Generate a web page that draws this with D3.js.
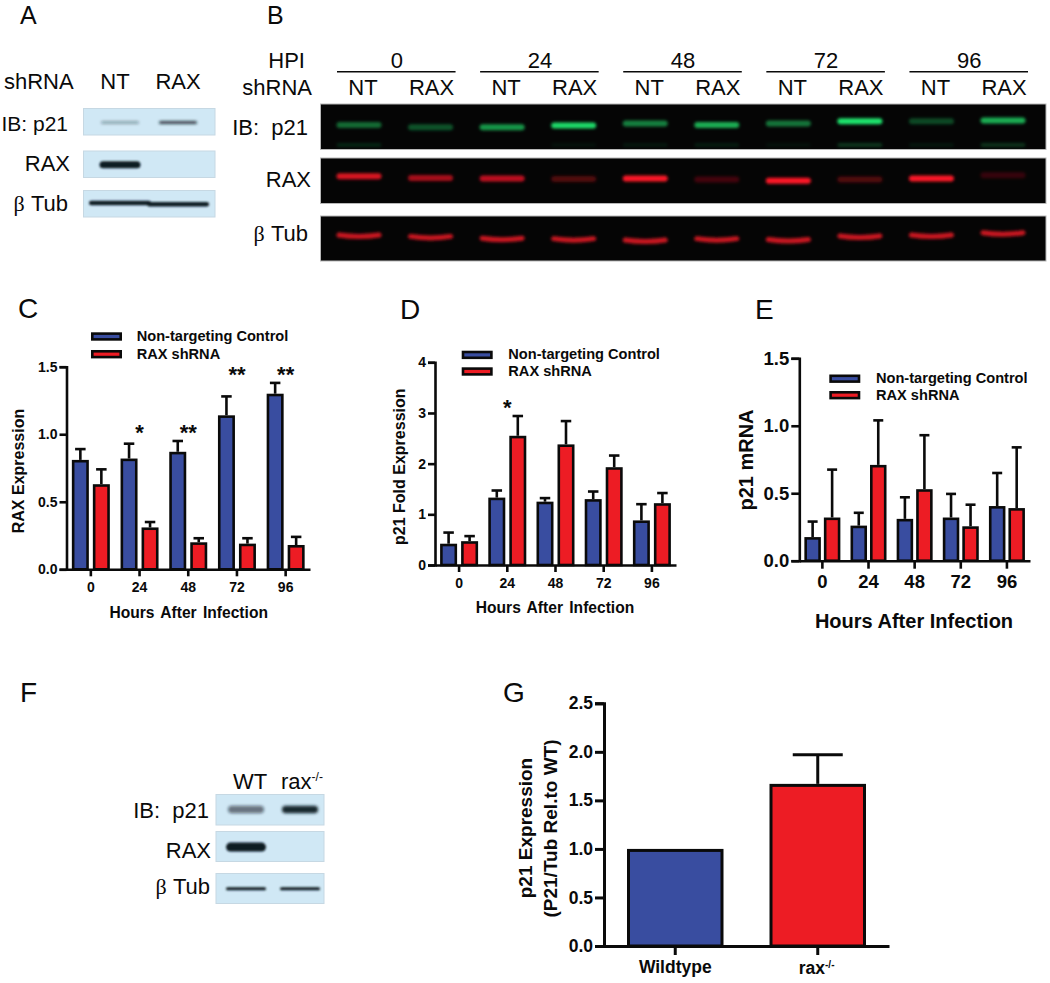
<!DOCTYPE html>
<html>
<head>
<meta charset="utf-8">
<script src="https://cdnjs.cloudflare.com/ajax/libs/d3/7.8.5/d3.min.js"></script>
<style>
html,body{margin:0;padding:0;background:#fff;}
svg{display:block;}
text{font-family:"Liberation Sans",Arial,sans-serif;fill:#0a0a0a;white-space:pre;}
</style>
</head>
<body>
<svg id="fig" width="1050" height="983"></svg>
<script>
// ---------- Data ----------
const hours = ["0","24","48","72","96"];
const seriesNames = ["Non-targeting Control","RAX shRNA"];

const cBlue = [0.81,0.82,0.87,1.14,1.30];
const cBlueUpper = [0.89,0.93,0.95,1.28,1.38];
const cRed = [0.63,0.31,0.20,0.19,0.18];
const cRedUpper = [0.74,0.35,0.23,0.23,0.24];
const cStars = ["","*","**","**","**"];
const cStarLevel = [0,1.054,1.054,1.484,1.484];
const cTicks = [0,0.5,1.0,1.5];

const dBlue = [0.42,1.33,1.25,1.30,0.88];
const dBlueUpper = [0.64,1.47,1.32,1.45,1.20];
const dRed = [0.47,2.55,2.38,1.93,1.22];
const dRedUpper = [0.57,2.94,2.84,2.16,1.42];
const dStars = ["","*","","",""];
const dStarLevel = [0,3.22,0,0,0];
const dTicks = [0,1,2,3,4];

const eBlue = [0.175,0.26,0.31,0.32,0.405];
const eBlueUpper = [0.29,0.355,0.47,0.495,0.65];
const eRed = [0.32,0.71,0.53,0.255,0.39];
const eRedUpper = [0.675,1.04,0.93,0.415,0.84];
const eTicks = [0,0.5,1.0,1.5];

const gCats = ["Wildtype","rax"];
const gVals = [1.0,1.67];
const gUpper = [1.0,1.97];
const gTicks = [0,0.5,1.0,1.5,2.0,2.5];

// Western blot band intensities (0-1) and migration (% of blot height)
const twoLanes = ["NT","RAX"];
const aP21 = [0.32,0.8];
const aRax = [1,0];
const aTub = [1,1];
const fLanes = ["WT","rax"];
const fP21 = [0.55,0.95];
const fRax = [1,0];
const fTub = [1,1];

const bLanes = ["0 NT","0 RAX","24 NT","24 RAX","48 NT","48 RAX","72 NT","72 RAX","96 NT","96 RAX"];
const bP21 = [0.45,0.35,0.65,0.95,0.55,0.75,0.5,1,0.3,0.75];
const bP21Lower = [0.14,0,0,0.05,0.08,0.1,0.05,0.22,0.08,0.2];
const bRax = [0.85,0.65,0.75,0.3,1,0.25,1,0.3,1,0.2];
const bTub = [0.85,0.85,0.85,0.85,0.85,0.85,0.85,0.85,0.85,0.85];
const bP21Mig = [46,51,51,47,43,46,43,38,38,36];
const bRaxMig = [40,44,45,46,45,47,50,47,45,38];
const bTubMig = [44,47,51,52,55,52,54,46,44,39];

const BLUE = "#394da0", RED = "#ed1c24", INK = "#0a0a0a";
const svg = d3.select("#fig");

const defs = svg.append("defs");
const blur = (id, s) => defs.append("filter").attr("id", id)
  .attr("filterUnits","userSpaceOnUse").attr("x",0).attr("y",0).attr("width",1050).attr("height",983)
  .append("feGaussianBlur").attr("stdDeviation", s);
blur("bandBlur", 1.4);
blur("softBlur", 0.8);

// ---------- Text helper ----------
function txt(x, y, s, o = {}) {
  const t = svg.append("text").attr("x", x).attr("y", y)
    .attr("font-size", o.size || 22)
    .attr("font-weight", o.bold ? "bold" : "normal")
    .attr("text-anchor", o.anchor || "start")
    .text(s);
  if (o.rotate) t.attr("transform", `rotate(-90 ${x} ${y})`);
  if (o.ws) t.attr("word-spacing", o.ws);
  return t;
}
function tub(x, y, size = 22) {
  const t = svg.append("text").attr("x", x).attr("y", y).attr("font-size", size).attr("text-anchor","end");
  t.append("tspan").attr("font-family","'Liberation Serif',serif").text("\u03b2");
  t.append("tspan").text(" Tub");
}

// ---------- Panel letters ----------
[["A",20,23.5,25],["B",267,23.5,25],["C",18,318,28],["D",400,319,28],["E",755,319,28],["F",20,702,28],["G",503,702,28]]
  .forEach(([s,x,y,size]) => txt(x, y, s, {size}));

// ---------- Blot helper ----------
function blot(o) {
  const mig = d3.scaleLinear().domain([0,100]).range([o.y0, o.y1]);
  const g = svg.append("g");
  if (!o.noBg) {
    g.append("rect").attr("x", o.x0).attr("y", o.y0)
      .attr("width", o.x1 - o.x0).attr("height", o.y1 - o.y0)
      .attr("fill", o.bg).attr("stroke", o.edge).attr("stroke-width", 1);
  }
  const bands = g.append("g").attr("filter", `url(#${o.blur || "bandBlur"})`);
  const lineGen = (d, i) => {
    const c = o.lanes(o.domain[i]), m = mig(o.migration[i]);
    const w = o.width / 2 - o.h / 2, dip = o.dip || 0;
    const p = d3.path();
    p.moveTo(c - w, m - dip / 2);
    p.quadraticCurveTo(c, m + dip * 1.5, c + w, m - dip / 2);
    return p.toString();
  };
  bands.selectAll("path").data(o.values).join("path")
    .attr("d", lineGen)
    .attr("fill", "none")
    .attr("stroke", o.color)
    .attr("stroke-width", o.h)
    .attr("stroke-linecap", "round")
    .attr("opacity", d => d);
}

// ---------- Panel A ----------
const LIGHT = "#d0e8f5", LIGHTEDGE = "#c6d8e3", DARKBAND = "#0d1a22";
const aX = d3.scalePoint().domain(twoLanes).range([120,178]);
const uniform = (n, v) => d3.range(n).map(() => v);
const aCommon = {x0:83.5, x1:215, lanes:aX, domain:twoLanes, bg:LIGHT, edge:LIGHTEDGE, color:DARKBAND};
blot({...aCommon, y0:108.5, y1:135, values:aP21, migration:uniform(2,53), width:38, h:3});
blot({...aCommon, y0:151, y1:177.5, values:aRax, migration:uniform(2,52), width:41, h:7, blur:"softBlur"});
blot({...aCommon, y0:190.5, y1:217, values:aTub, migration:[47,52], width:62, h:4.5, blur:"softBlur"});
txt(4, 89, "shRNA");
txt(115, 89, "NT", {anchor:"middle"});
txt(178, 89, "RAX", {anchor:"middle"});
txt(68, 131, "IB: p21", {anchor:"end", size:21});
txt(70, 171, "RAX", {anchor:"end"});
tub(68, 211);

// ---------- Panel B ----------
const bX = d3.scalePoint().domain(bLanes).range([359,1003]);
const bCommon = {x0:320.5, x1:1046, lanes:bX, domain:bLanes, bg:"#050505", edge:"#b8b8b8", width:45};
blot({...bCommon, y0:104, y1:149.5, values:bP21, migration:bP21Mig, color:"#1fe56d", h:6});
blot({...bCommon, noBg:true, y0:104, y1:149.5, values:bP21Lower, migration:uniform(10,90), color:"#1fe56d", h:4});
blot({...bCommon, y0:158, y1:203.5, values:bRax, migration:bRaxMig, color:"#ff1426", h:6});
blot({...bCommon, y0:216, y1:261, values:bTub, migration:bTubMig, color:"#f01525", h:5, dip:1.5});
txt(305, 68, "HPI", {anchor:"end"});
txt(312, 95, "shRNA", {anchor:"end"});
txt(308, 135, "IB:  p21", {anchor:"end"});
txt(311, 187, "RAX", {anchor:"end"});
tub(308, 241);

svg.append("g").selectAll("line").data(hours).join("line")
  .attr("x1", (d,i) => bX(bLanes[i*2]) - 22)
  .attr("x2", (d,i) => bX(bLanes[i*2+1]) + 25)
  .attr("y1", 71.7).attr("y2", 71.7)
  .attr("stroke", INK).attr("stroke-width", 1.6);
hours.forEach((h,i) => {
  txt((bX(bLanes[i*2]) + bX(bLanes[i*2+1])) / 2 + 2, 68, h, {anchor:"middle"});
  txt(bX(bLanes[i*2]) + 4, 95, "NT", {anchor:"middle"});
  txt(bX(bLanes[i*2+1]) + 1, 95, "RAX", {anchor:"middle"});
});

// ---------- Panel F ----------
const fX = d3.scalePoint().domain(fLanes).range([246,300]);
const fCommon = {x0:216, x1:324, lanes:fX, domain:fLanes, bg:LIGHT, edge:LIGHTEDGE, color:DARKBAND};
blot({...fCommon, y0:794.5, y1:825, values:fP21, migration:uniform(2,49), width:36, h:7.5});
blot({...fCommon, y0:831.5, y1:861.5, values:fRax, migration:uniform(2,52), width:40, h:9, blur:"softBlur"});
blot({...fCommon, y0:873.5, y1:903.5, values:fTub, migration:uniform(2,51), width:40, h:3, blur:"softBlur"});
txt(250, 789, "WT", {anchor:"middle"});
const rk = txt(281, 789, "rax");
rk.append("tspan").attr("font-size", 12).attr("dy", -8).text("-/-");
txt(209, 818, "IB:  p21", {anchor:"end"});
txt(211, 858, "RAX", {anchor:"end"});
tub(210, 894);

// ---------- Grouped bar chart helper ----------
function grouped(o) {
  const x = d3.scaleBand().domain(hours).range([o.x0, o.x1]);
  const y = d3.scaleLinear().domain(o.yDomain).range([o.y0, o.y1]);
  const inner = d3.scaleBand().domain(seriesNames)
    .range([-(o.bw + o.gap / 2), o.bw + o.gap / 2])
    .paddingInner(o.gap / (o.bw + o.gap));
  const centre = d => x(d) + x.bandwidth() / 2;
  const g = svg.append("g");

  [[o.blue,o.blueUp,seriesNames[0],BLUE],[o.red,o.redUp,seriesNames[1],RED]].forEach(([vals,ups,name,col]) => {
    const row = hours.map((h,i) => ({h, v: vals[i], u: ups[i]}));
    const bx = d => centre(d.h) + inner(name) + inner.bandwidth() / 2;
    g.append("g").selectAll("line").data(row).join("line")
      .attr("x1", bx).attr("x2", bx).attr("y1", d => y(d.v)).attr("y2", d => y(d.u))
      .attr("stroke", INK).attr("stroke-width", o.sw);
    g.append("g").selectAll("line").data(row).join("line")
      .attr("x1", d => bx(d) - o.cap / 2).attr("x2", d => bx(d) + o.cap / 2)
      .attr("y1", d => y(d.u)).attr("y2", d => y(d.u))
      .attr("stroke", INK).attr("stroke-width", o.sw);
    g.append("g").selectAll("rect").data(row).join("rect")
      .attr("x", d => centre(d.h) + inner(name) + o.sw / 2)
      .attr("width", inner.bandwidth() - o.sw)
      .attr("y", d => y(d.v) + o.sw / 2)
      .attr("height", d => y(0) - y(d.v) - o.sw / 2)
      .attr("fill", col).attr("stroke", INK).attr("stroke-width", o.sw);
  });

  axes(g, x, y, o);

  if (o.stars) {
    g.append("g").selectAll("text").data(hours).join("text")
      .attr("x", d => centre(d))
      .attr("y", (d,i) => y(o.starLevel[i]) + 13)
      .attr("text-anchor","middle").attr("font-weight","bold").attr("font-size",22)
      .text((d,i) => o.stars[i]);
  }

  // legend
  seriesNames.forEach((name,i) => {
    const ly = o.legend.y[i];
    g.append("rect").attr("x", o.legend.x + o.sw / 2).attr("y", ly + o.sw / 2)
      .attr("width", 31 - o.sw).attr("height", 8 - o.sw + 0.4)
      .attr("fill", i ? RED : BLUE).attr("stroke", INK).attr("stroke-width", o.sw);
    txt(o.legend.tx, ly + 8.5, name, {size:14.6, bold:true});
  });

  txt(o.xLabel.x, o.xLabel.y, "Hours After Infection", {size:o.xLabel.size, bold:true, anchor:"middle", ws:o.xLabel.ws});
  txt(o.yLabel.x, o.yLabel.y, o.yLabel.text, {size:o.yLabel.size, bold:true, anchor:"middle", rotate:true});
}

function axes(g, x, y, o) {
  const xa = g.append("g").attr("transform", `translate(0,${o.y0})`)
    .call(d3.axisBottom(x).tickSize(o.tick).tickPadding(o.xPad).tickSizeOuter(0).tickFormat(o.xFmt || (d => d)));
  const ya = g.append("g").attr("transform", `translate(${o.x0},0)`)
    .call(d3.axisLeft(y).tickValues(o.ticks).tickSize(o.tick).tickPadding(2).tickFormat(o.fmt));
  [xa, ya].forEach(a => {
    a.attr("font-family","'Liberation Sans',Arial,sans-serif").attr("font-size", o.font).attr("font-weight","bold");
    a.selectAll("path.domain").attr("stroke", INK).attr("stroke-width", o.sw);
    a.selectAll(".tick line").attr("stroke", INK).attr("stroke-width", o.sw);
    a.selectAll(".tick text").attr("fill", INK);
  });
}

// ---------- Panel C ----------
grouped({x0:66.5,x1:310,y0:569.3,y1:366.7,yDomain:[0,1.5],ticks:cTicks,fmt:d3.format(".1f"),
  blue:cBlue,blueUp:cBlueUpper,red:cRed,redUp:cRedUpper,stars:cStars,starLevel:cStarLevel,
  bw:17,gap:4,sw:2.6,cap:10.5,tick:7,xPad:5.5,font:14,
  legend:{x:91,y:[332.3,350],tx:136.7},
  xLabel:{x:188.7,y:618,size:15.6,ws:2},
  yLabel:{x:23.5,y:471,size:16,text:"RAX Expression"}});

// ---------- Panel D ----------
grouped({x0:435,x1:676,y0:565,y1:362.3,yDomain:[0,4],ticks:dTicks,fmt:d3.format("d"),
  blue:dBlue,blueUp:dBlueUpper,red:dRed,redUp:dRedUpper,stars:dStars,starLevel:dStarLevel,
  bw:17,gap:4,sw:2.6,cap:10.5,tick:7,xPad:6.4,font:14,
  legend:{x:461.7,y:[350.7,367.3],tx:508.3},
  xLabel:{x:555,y:612.7,size:15.6,ws:2},
  yLabel:{x:405,y:466.7,size:16,text:"p21 Fold Expression"}});

// ---------- Panel E ----------
grouped({x0:799.3,x1:1030,y0:560.7,y1:358.3,yDomain:[0,1.5],ticks:eTicks,fmt:d3.format(".1f"),
  blue:eBlue,blueUp:eBlueUpper,red:eRed,redUp:eRedUpper,
  bw:16.5,gap:3,sw:2.6,cap:10,tick:8,xPad:5.9,font:18.5,
  legend:{x:829.3,y:[374.5,391],tx:876},
  xLabel:{x:914,y:628,size:20},
  yLabel:{x:753,y:460,size:20,text:"p21 mRNA"}});

// ---------- Panel G ----------
(function () {
  const o = {x0:604,x1:889,y0:946,y1:703.3,ticks:gTicks,fmt:d3.format(".1f"),sw:3,tick:9,xPad:5.9,font:17.5,
    xFmt:d => d === "rax" ? "" : d};
  const x = d3.scaleBand().domain(gCats).range([o.x0,o.x1]);
  const y = d3.scaleLinear().domain([0,2.5]).range([o.y0,o.y1]);
  const g = svg.append("g");
  const bw = 96.5;
  const cx = d => x(d) + x.bandwidth() / 2;
  const row = gCats.map((c,i) => ({c, v:gVals[i], u:gUpper[i]}));
  const errs = row.filter(d => d.u > d.v);
  g.append("g").selectAll("line").data(errs).join("line")
    .attr("x1", d => cx(d.c)).attr("x2", d => cx(d.c))
    .attr("y1", d => y(d.v)).attr("y2", d => y(d.u))
    .attr("stroke", INK).attr("stroke-width", o.sw);
  g.append("g").selectAll("line").data(errs).join("line")
    .attr("x1", d => cx(d.c) - 25).attr("x2", d => cx(d.c) + 25)
    .attr("y1", d => y(d.u)).attr("y2", d => y(d.u))
    .attr("stroke", INK).attr("stroke-width", o.sw);
  g.append("g").selectAll("rect").data(row).join("rect")
    .attr("x", d => cx(d.c) - bw / 2 + o.sw / 2)
    .attr("width", bw - o.sw)
    .attr("y", d => y(d.v) + o.sw / 2)
    .attr("height", d => y(0) - y(d.v) - o.sw / 2)
    .attr("fill", (d,i) => i ? RED : BLUE)
    .attr("stroke", INK).attr("stroke-width", o.sw);
  axes(g, x, y, o);
  const rl = txt(cx("rax") - 19, 973.5, "rax", {size:17.5, bold:true});
  rl.append("tspan").attr("font-size", 10).attr("dy", -6).text("-/-");
  txt(532, 828, "p21 Expression", {size:19, bold:true, anchor:"middle", rotate:true});
  txt(556.5, 828.5, "(P21/Tub Rel.to WT)", {size:19, bold:true, anchor:"middle", rotate:true});
})();
</script>
</body>
</html>
